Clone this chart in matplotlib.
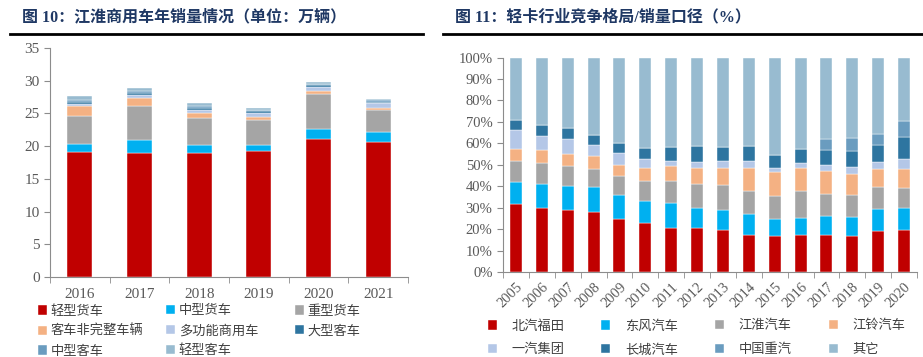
import numpy as np
import matplotlib
matplotlib.use("Agg")
import matplotlib.pyplot as plt
from matplotlib.lines import Line2D

# ______________________________________________________________________________
# Donnees - graphique de gauche (unite : 万辆)

years_l = ["2016", "2017", "2018", "2019", "2020", "2021"]
light_truck = [19.1, 18.9, 19.0, 19.2, 21.1, 20.7]
medium_truck = [1.3, 2.0, 1.2, 1.0, 1.5, 1.5]
heavy_truck = [4.2, 5.2, 4.1, 3.8, 5.4, 3.4]
incomplete_bus = [1.6, 1.3, 0.8, 0.5, 0.4, 0.2]
multi_purpose = [0.2, 0.4, 0.5, 0.6, 0.6, 0.8]
large_bus = [0.4, 0.3, 0.3, 0.3, 0.3, 0.2]
medium_bus = [0.3, 0.3, 0.3, 0.2, 0.2, 0.2]
light_bus = [0.6, 0.5, 0.4, 0.3, 0.3, 0.2]
labels_l = ["轻型货车", "中型货车", "重型货车", "客车非完整车辆",
            "多功能商用车", "大型客车", "中型客车", "轻型客车"]

# ______________________________________________________________________________
# Donnees - graphique de droite (parts en %)

years_r = [str(y) for y in range(2005, 2021)]
beiqi_futian = [31.9, 30.0, 28.8, 27.8, 24.6, 22.7, 20.7, 20.7, 19.8, 17.4, 17.0, 17.1, 17.1, 17.0, 19.0, 19.4]
dongfeng = [10.1, 10.9, 11.2, 11.7, 11.2, 10.4, 11.6, 9.2, 9.0, 9.7, 7.9, 8.2, 9.0, 8.7, 10.2, 10.3]
jianghuai = [9.6, 9.8, 9.6, 8.7, 8.8, 9.2, 10.0, 11.2, 11.6, 10.5, 10.6, 12.3, 10.4, 10.1, 10.5, 9.6]
jiangling = [5.9, 6.4, 5.6, 5.8, 5.2, 6.4, 7.0, 7.3, 8.0, 10.9, 11.0, 10.9, 10.5, 9.8, 8.2, 8.9]
yiqi = [8.9, 6.4, 6.7, 5.4, 5.7, 4.0, 2.5, 2.8, 3.2, 3.3, 1.9, 2.2, 2.8, 3.2, 3.3, 4.4]
changcheng = [4.4, 4.9, 5.1, 4.7, 4.5, 5.3, 6.5, 7.4, 6.6, 7.1, 6.3, 6.8, 7.0, 7.5, 7.9, 10.2]
zhongqi = [0, 0, 0, 0, 0, 0, 0, 0, 0, 0, 0, 0, 5.3, 6.2, 5.3, 7.8]
others = [29.2, 31.6, 33.0, 35.9, 40.0, 42.0, 41.7, 41.4, 41.8, 41.1, 45.3, 42.5, 37.9, 37.5, 35.6, 29.4]
labels_r = ["北汽福田", "东风汽车", "江淮汽车", "江铃汽车",
            "一汽集团", "长城汽车", "中国重汽", "其它"]

colors = ["#C00000", "#00B0F0", "#A5A5A5", "#F4B183",
          "#B4C7E7", "#2E75A0", "#6A9CBF", "#98BBD0"]

# ______________________________________________________________________________
# RCParams

plt.rcParams['font.family'] = ['Liberation Serif', 'Noto Sans CJK SC']
plt.rcParams['font.size'] = 10
plt.rcParams['axes.edgecolor'] = '#8C8C8C'
plt.rcParams['xtick.color'] = '#8C8C8C'
plt.rcParams['ytick.color'] = '#8C8C8C'
plt.rcParams['xtick.labelcolor'] = '#595959'
plt.rcParams['ytick.labelcolor'] = '#595959'

W, H = 923, 357
fig = plt.figure(figsize=(W / 100, H / 100), dpi=100)


def stacked(ax, cats, series, width):
    x = np.arange(len(cats))
    bottom = np.zeros(len(cats))
    handles = []
    for s, c in zip(series, colors):
        h = ax.bar(x, s, width, bottom=bottom, color=c, edgecolor='white', linewidth=0.3)
        bottom += np.array(s)
        handles.append(h)
    ax.set_xlim(-0.5, len(cats) - 0.5)
    ax.set_xticks(x)
    ax.set_xticks(np.arange(-0.5, len(cats)), minor=True)
    ax.tick_params(axis='x', which='major', length=0)
    ax.tick_params(axis='x', which='minor', length=4, direction='out')
    ax.tick_params(axis='y', length=4, direction='out')
    for sp in ['top', 'right']:
        ax.spines[sp].set_visible(False)
    return handles


def legend_cols(handles, labels, ncol, xs, ytop, spacing, pad):
    # une legende par colonne, remplie ligne par ligne
    for j, xpx in enumerate(xs):
        idx = list(range(j, len(labels), ncol))
        fig.legend([handles[i] for i in idx], [labels[i] for i in idx],
                   loc='upper left', bbox_to_anchor=(xpx / W, 1 - ytop / H),
                   frameon=False, fontsize=9.5, handlelength=0.7, handleheight=0.7,
                   handletextpad=pad, labelspacing=spacing, borderpad=0,
                   borderaxespad=0, labelcolor='#404040')


# ______________________________________________________________________________
# Figure de gauche

ax1 = fig.add_axes([50 / W, 80 / H, 358 / W, 229 / H])
h1 = stacked(ax1, years_l, [light_truck, medium_truck, heavy_truck, incomplete_bus,
                            multi_purpose, large_bus, medium_bus, light_bus], 0.42)
ax1.set_ylim(0, 35)
ax1.set_yticks(range(0, 36, 5))
ax1.set_xticklabels(years_l, fontsize=11)
ax1.tick_params(axis='x', which='major', pad=8)
ax1.tick_params(axis='y', labelsize=11)
legend_cols(h1, labels_l, 3, [38, 166, 295], 305, 0.55, 0.25)

# ______________________________________________________________________________
# Figure de droite

ax2 = fig.add_axes([503 / W, 85 / H, 414 / W, 214.4 / H])
h2 = stacked(ax2, years_r, [beiqi_futian, dongfeng, jianghuai, jiangling,
                            yiqi, changcheng, zhongqi, others], 0.46)
ax2.set_ylim(0, 100)
ax2.set_yticks(range(0, 101, 10))
ax2.set_yticklabels([f"{v}%" for v in range(0, 101, 10)], fontsize=10.5)
ax2.set_xticklabels(years_r, rotation=45, ha='right', rotation_mode='anchor', fontsize=10.5)
ax2.tick_params(axis='x', which='major', pad=6)
legend_cols(h2, labels_r, 4, [488, 601, 715, 829], 320, 0.85, 1.1)

# ______________________________________________________________________________
# Titres

title_color = '#1F3864'
fig.text(22 / W, 1 - 17 / H, "图 10：江淮商用车年销量情况（单位：万辆）", fontsize=11.5,
         fontweight='bold', color=title_color, va='center', ha='left')
fig.text(455 / W, 1 - 17 / H, "图 11：轻卡行业竞争格局/销量口径（%）", fontsize=11.5,
         fontweight='bold', color=title_color, va='center', ha='left')
fig.add_artist(Line2D([10 / W, 423 / W], [1 - 34 / H, 1 - 34 / H], color='black', lw=2))
fig.add_artist(Line2D([443 / W, 923 / W], [1 - 34 / H, 1 - 34 / H], color='black', lw=2))

fig.savefig("out.png", dpi=100)
